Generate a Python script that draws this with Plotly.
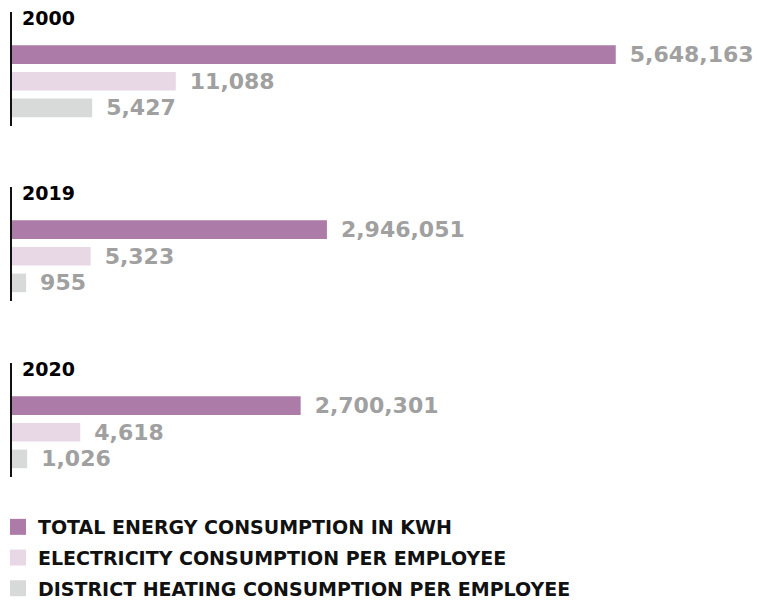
import plotly.graph_objects as go

# ---- data ----
years = ["2000", "2019", "2020"]
series_names = [
    "TOTAL ENERGY CONSUMPTION IN KWH",
    "ELECTRICITY CONSUMPTION PER EMPLOYEE",
    "DISTRICT HEATING CONSUMPTION PER EMPLOYEE",
]
total_kwh = [5648163, 2946051, 2700301]
electricity_per_employee = [11088, 5323, 4618]
heating_per_employee = [5427, 955, 1026]

# ---- style ----
series_colors = ["#ad7ba7", "#e8d8e6", "#d8dad9"]
series_axes = ["x", "x2", "x2"]          # totals vs per-employee scale
label_color = "#a0a0a0"
W, H = 757, 601
L_MARGIN = 12
plot_w = W - L_MARGIN
FONT = "DejaVu Sans"

series_values = [total_kwh, electricity_per_employee, heating_per_employee]

fig = go.Figure()

for gi, year in enumerate(years):
    yid = "y" if gi == 0 else f"y{gi + 1}"
    for si, name in enumerate(series_names):
        fig.add_trace(go.Bar(
            orientation="h",
            x=[series_values[si][gi]],
            y=[name],
            xaxis=series_axes[si],
            yaxis=yid,
            width=0.7,
            marker=dict(color=series_colors[si], line=dict(width=0)),
            texttemplate="\u2002%{x:,}",
            textposition="outside",
            textfont=dict(family=FONT, size=22, color=label_color, weight="bold"),
            constraintext="none",
            cliponaxis=False,
            showlegend=False,
            hoverinfo="skip",
        ))

# legend entries (square swatches)
for si, name in enumerate(series_names):
    fig.add_trace(go.Scatter(
        x=[None], y=[None], mode="markers", name=name, legendgroup=f"g{si}",
        marker=dict(symbol="square", size=16, color=series_colors[si]),
        xaxis="x", yaxis="y", hoverinfo="skip",
    ))

layout = dict(
    width=W, height=H,
    margin=dict(l=L_MARGIN, r=0, t=0, b=0, autoexpand=False),
    paper_bgcolor="white", plot_bgcolor="rgba(0,0,0,0)",
    barmode="overlay",
    xaxis=dict(domain=[0, 1], range=[0, plot_w * 9355], visible=False, fixedrange=True),
    xaxis2=dict(domain=[0, 1], range=[0, plot_w * 67.7], overlaying="x", visible=False, fixedrange=True),
    showlegend=True,
    legend=dict(
        orientation="v", x=-14 / plot_w, xanchor="left", y=1 - 508 / H, yanchor="top",
        font=dict(family=FONT, size=19, color="#111111", weight="bold"),
        tracegroupgap=3,
        bgcolor="rgba(0,0,0,0)", itemclick=False, itemdoubleclick=False,
    ),
    annotations=[],
)

group_tops = [12, 187, 363]
group_h = 114
for gi, year in enumerate(years):
    key = "yaxis" if gi == 0 else f"yaxis{gi + 1}"
    top = group_tops[gi]
    layout[key] = dict(
        domain=[1 - (top + group_h) / H, 1 - top / H],
        anchor="x",
        type="category",
        categoryorder="array", categoryarray=series_names,
        range=[2.68, -1.6],
        showline=True, linecolor="#111111", linewidth=2,
        showticklabels=False, ticks="", showgrid=False, zeroline=False,
        fixedrange=True,
    )
    yref = "y domain" if gi == 0 else f"y{gi + 1} domain"
    layout["annotations"].append(dict(
        text=year, xref="paper", x=0, xanchor="left", xshift=8,
        yref=yref, y=1, yanchor="middle", yshift=-6, showarrow=False,
        font=dict(family=FONT, size=19, color="#000000", weight="bold"),
    ))

fig.update_layout(**layout)
fig.write_html(
    "out.html",
    config={"displayModeBar": False},
    post_script="document.body.style.margin='0';",
)
